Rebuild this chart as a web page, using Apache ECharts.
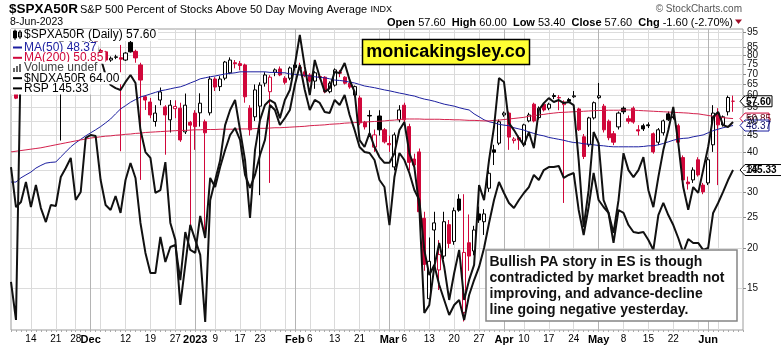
<!DOCTYPE html>
<html><head><meta charset="utf-8">
<script src="https://cdn.jsdelivr.net/npm/echarts@6/dist/echarts.min.js"></script>
<style>html,body{margin:0;padding:0;background:#fff}#c{width:781px;height:345px}</style>
</head><body><div id="c"></div>
<script>
// ---------- DATA ----------
const dates = ['2022-11-08','2022-11-09','2022-11-10','2022-11-11','2022-11-14','2022-11-15','2022-11-16','2022-11-17','2022-11-18','2022-11-21','2022-11-22','2022-11-23','2022-11-25','2022-11-28','2022-11-29','2022-11-30',
'2022-12-01','2022-12-02','2022-12-05','2022-12-06','2022-12-07','2022-12-08','2022-12-09','2022-12-12','2022-12-13','2022-12-14','2022-12-15','2022-12-16','2022-12-19','2022-12-20','2022-12-21','2022-12-22','2022-12-23','2022-12-27','2022-12-28','2022-12-29','2022-12-30',
'2023-01-03','2023-01-04','2023-01-05','2023-01-06','2023-01-09','2023-01-10','2023-01-11','2023-01-12','2023-01-13','2023-01-17','2023-01-18','2023-01-19','2023-01-20','2023-01-23','2023-01-24','2023-01-25','2023-01-26','2023-01-27','2023-01-30','2023-01-31',
'2023-02-01','2023-02-02','2023-02-03','2023-02-06','2023-02-07','2023-02-08','2023-02-09','2023-02-10','2023-02-13','2023-02-14','2023-02-15','2023-02-16','2023-02-17','2023-02-21','2023-02-22','2023-02-23','2023-02-24','2023-02-27','2023-02-28',
'2023-03-01','2023-03-02','2023-03-03','2023-03-06','2023-03-07','2023-03-08','2023-03-09','2023-03-10','2023-03-13','2023-03-14','2023-03-15','2023-03-16','2023-03-17','2023-03-20','2023-03-21','2023-03-22','2023-03-23','2023-03-24','2023-03-27','2023-03-28','2023-03-29','2023-03-30','2023-03-31',
'2023-04-03','2023-04-04','2023-04-05','2023-04-06','2023-04-10','2023-04-11','2023-04-12','2023-04-13','2023-04-14','2023-04-17','2023-04-18','2023-04-19','2023-04-20','2023-04-21','2023-04-24','2023-04-25','2023-04-26','2023-04-27','2023-04-28',
'2023-05-01','2023-05-02','2023-05-03','2023-05-04','2023-05-05','2023-05-08','2023-05-09','2023-05-10','2023-05-11','2023-05-12','2023-05-15','2023-05-16','2023-05-17','2023-05-18','2023-05-19','2023-05-22','2023-05-23','2023-05-24','2023-05-25','2023-05-26','2023-05-30','2023-05-31',
'2023-06-01','2023-06-02','2023-06-05','2023-06-06','2023-06-07','2023-06-08'];

const opens = [null,61.1,62.0,75.5,79.0,76.0,80.0,76.5,78.0,80.5,82.0,83.0,85.0,84.0,80.0,83.3,87.7,89.0,83.0,82.2,77.5,79.0,78.8,77.5,88.0,82.5,74.8,59.5,57.3,49.8,58.1,55.3,50.4,54.6,54.8,46.2,49.5,52.9,53.0,49.7,53.0,67.6,64.0,68.0,70.7,76.0,75.5,74.8,54.8,51.5,55.6,65.6,61.7,71.0,72.7,68.0,68.0,74.8,73.5,71.2,69.6,66.6,68.8,68.5,61.7,64.7,71.0,68.5,65.6,60.2,59.0,49.5,52.0,41.4,51.8,46.9,42.5,35.9,50.4,56.0,48.0,38.0,40.0,24.8,13.9,22.8,17.1,18.9,23.7,21.0,28.5,12.6,20.8,19.6,25.6,24.2,30.8,40.6,42.6,52.2,52.9,43.4,44.3,42.1,50.0,56.4,51.2,56.4,54.8,60.0,59.2,56.2,58.3,59.5,54.5,44.6,42.1,51.1,59.1,55.6,49.9,45.6,47.9,54.8,50.8,54.8,46.9,48.3,48.6,45.6,42.9,45.9,52.6,51.5,48.3,38.4,32.2,32.7,37.8,31.5,32.0,42.1,52.9,48.6,53.4,57.6];
const highs = [null,62.0,76.5,79.5,80.0,80.5,81.0,79.0,81.0,83.0,84.0,86.0,86.0,84.5,83.0,88.5,91.0,90.0,84.0,82.8,79.5,80.5,86.4,82.0,89.0,83.5,76.0,60.2,59.0,56.0,63.6,56.0,58.1,58.0,57.0,60.9,50.0,54.0,61.0,50.5,69.0,68.5,69.0,77.0,79.0,77.5,77.0,75.5,56.0,65.0,66.0,71.0,69.5,73.0,74.0,69.0,74.0,76.0,76.0,72.0,70.5,71.5,70.0,69.0,66.5,73.0,72.2,69.0,66.0,64.5,60.0,50.0,54.0,47.0,54.0,47.5,45.0,46.0,56.0,57.0,49.0,39.5,41.0,26.0,21.6,26.0,21.2,26.0,24.5,26.8,29.5,29.5,25.5,23.5,27.0,26.5,35.0,42.1,50.5,53.5,53.5,44.5,45.0,49.0,53.0,57.0,55.5,57.0,57.0,61.0,60.2,58.0,59.0,62.0,55.0,45.5,51.5,57.5,65.7,56.5,50.5,46.5,53.5,55.5,52.0,55.5,48.5,49.0,49.5,46.0,47.5,50.5,53.5,52.5,49.0,39.0,33.5,35.8,38.5,32.0,38.5,56.0,54.8,52.0,60.0,60.0];
const lows = [null,58.5,61.5,74.0,75.0,75.5,75.5,75.0,77.0,79.0,43.4,82.0,83.0,79.0,79.5,82.5,86.5,81.5,80.0,76.5,76.5,78.0,40.2,77.0,81.8,76.0,32.7,54.1,51.0,48.0,56.0,39.2,46.0,51.0,43.0,45.5,22.8,40.6,48.0,21.6,52.0,62.0,62.0,67.0,70.0,73.0,72.0,57.0,45.0,50.0,29.3,64.0,32.0,69.0,69.0,65.0,67.0,72.0,72.0,68.5,66.0,63.0,67.5,61.0,61.0,64.0,68.5,65.0,63.0,59.5,48.5,47.0,44.6,40.0,45.0,42.5,40.0,35.0,49.5,49.5,35.0,35.5,25.5,17.0,13.6,17.8,14.8,18.5,20.0,20.5,26.0,11.8,17.0,19.0,24.0,22.0,30.0,36.4,42.0,51.5,40.6,42.5,40.6,41.5,49.5,49.5,50.5,53.5,54.0,58.5,54.0,27.7,57.0,59.0,46.5,38.0,41.5,50.5,58.5,46.0,43.5,42.0,47.0,52.5,49.0,49.0,45.0,46.5,47.5,39.5,42.0,45.0,50.0,50.5,42.0,32.0,30.5,32.0,33.5,29.5,31.5,40.0,31.5,48.0,52.0,53.4];
const closes = [null,58.9,75.5,78.8,76.0,80.0,76.5,78.0,80.5,82.0,83.0,85.0,84.0,80.0,82.5,87.7,90.0,82.2,81.0,77.5,78.5,79.3,78.0,81.5,82.2,78.7,67.1,58.1,52.2,52.9,61.6,52.2,56.0,55.5,43.6,56.0,48.5,48.0,56.8,45.9,67.6,63.8,67.6,76.4,77.5,75.5,74.5,59.5,46.9,62.5,64.7,69.6,68.5,72.2,69.6,66.0,73.2,73.4,73.0,69.1,66.6,70.7,68.5,61.7,65.6,72.2,70.5,65.6,63.8,64.0,49.3,47.9,51.8,45.2,46.9,43.0,42.1,45.2,54.1,50.4,37.1,36.4,26.0,17.8,18.2,24.0,19.1,24.2,20.7,26.2,26.3,19.4,18.9,22.8,24.5,25.6,34.3,39.9,49.7,52.9,44.5,43.9,43.6,48.6,52.2,50.0,54.8,54.1,56.4,59.6,59.0,57.3,57.6,59.9,46.9,38.7,51.1,57.0,59.9,46.9,44.3,42.9,52.9,53.4,49.9,49.6,46.5,47.2,48.3,40.0,46.9,50.0,50.4,51.2,42.9,32.7,31.8,35.1,33.9,30.0,37.8,52.9,48.6,51.5,59.2,57.6];

const ma50 = [32.2,32.2,33.2,33.9,34.6,35.6,36.3,36.9,37.1,37.2,38.6,40.0,41.5,42.7,43.8,44.9,45.9,46.9,48.0,49.3,50.7,52.6,54.5,55.8,57.2,58.3,59.4,60.0,60.7,61.4,62.1,62.5,63.0,63.5,63.9,64.7,65.7,66.6,67.7,68.2,68.7,69.1,69.6,70.1,70.4,70.7,71.2,71.2,71.2,71.2,71.2,71.2,70.9,70.9,70.7,70.7,70.1,69.9,69.6,69.4,69.1,68.7,68.4,68.2,67.7,67.1,66.9,66.6,66.1,65.7,65.0,64.3,63.9,63.5,63.0,62.5,62.1,61.6,61.1,60.7,60.2,59.8,59.1,58.5,58.1,57.6,57.0,56.4,56.0,55.6,55.0,54.5,54.1,52.6,51.5,50.4,49.7,49.3,48.8,48.5,48.3,47.6,47.2,46.8,46.2,45.7,45.2,44.9,44.4,44.1,43.8,43.5,43.1,42.8,42.7,42.4,42.3,42.1,41.9,41.8,41.6,41.5,41.5,41.5,41.5,41.5,41.5,41.6,41.8,41.8,42.1,42.5,43.0,43.5,43.9,44.1,44.2,44.6,44.9,45.2,45.9,46.6,47.1,47.6,48.0,48.37];
const ma200 = [40.0,40.2,40.4,40.6,40.8,41.0,41.2,41.5,41.8,42.1,42.4,42.7,43.0,43.3,43.6,43.9,44.2,44.4,44.6,44.8,44.9,45.1,45.2,45.4,45.5,45.7,45.8,46.0,46.1,46.2,46.3,46.4,46.5,46.6,46.7,46.7,46.8,46.9,46.9,47.0,47.0,47.0,47.1,47.1,47.1,47.1,47.2,47.2,47.2,47.3,47.4,47.4,47.5,47.6,47.6,47.7,47.8,47.9,48.0,48.1,48.3,48.4,48.5,48.6,48.8,48.9,49.0,49.2,49.3,49.4,49.5,49.6,49.7,49.8,49.9,50.0,50.2,50.3,50.5,50.7,50.7,50.7,50.7,50.6,50.6,50.6,50.6,50.5,50.5,50.4,50.4,50.3,50.2,50.2,50.1,50.0,50.0,50.2,50.3,50.5,50.7,50.9,51.1,51.3,51.7,51.9,52.2,52.4,52.7,52.9,53.1,53.2,53.3,53.4,53.5,53.6,53.7,53.8,53.9,53.9,54.0,54.0,54.0,54.1,54.1,54.0,53.9,53.8,53.7,53.6,53.5,53.4,53.3,53.2,53.1,53.0,52.9,52.7,52.6,52.3,52.0,51.7,51.4,51.2,51.0,50.85];
const ndxa50r = [22.5,12.6,84.0,81.4,82.7,80.1,83.2,81.4,84.0,82.7,85.3,84.0,84.8,81.4,84.0,85.8,86.6,85.3,80.6,76.2,73.6,72.8,72.3,74.4,76.2,74.1,61.9,56.2,54.7,45.6,46.3,53.6,37.8,33.4,16.5,26.9,37.3,33.4,29.5,12.1,43.7,48.9,54.1,63.2,67.1,69.7,61.9,54.1,39.1,56.7,64.5,68.4,69.7,68.9,65.0,69.7,72.3,78.8,86.6,78.3,71.0,80.1,75.7,71.8,72.8,77.0,76.7,79.3,74.9,71.8,59.3,57.5,61.1,57.5,54.9,53.4,53.4,55.9,61.9,64.0,55.9,52.3,41.9,14.4,16.5,26.4,32.6,26.4,17.8,24.8,30.8,17.8,23.0,26.9,47.6,43.7,54.1,62.7,75.4,74.4,63.7,61.9,59.8,58.0,61.4,57.2,67.1,68.9,70.2,69.2,69.7,68.9,69.2,68.4,54.1,36.7,46.3,61.4,58.5,43.7,40.4,35.2,43.7,55.9,51.5,49.7,51.5,54.9,46.3,41.9,49.7,56.7,61.9,67.9,58.5,47.1,41.2,47.1,45.6,51.5,57.5,65.3,66.6,63.2,62.7,64.0];
const rsp = [145.56,142.48,142.87,144.41,142.48,144.18,142.40,141.32,142.64,142.56,144.79,145.49,146.26,143.02,143.64,147.80,148.03,147.95,144.56,142.64,142.25,143.33,142.02,144.56,145.87,144.72,141.25,138.94,137.39,137.39,140.17,138.24,139.40,139.55,136.85,140.55,139.17,138.94,141.79,140.09,144.72,144.02,145.56,146.87,148.03,148.57,147.65,144.95,143.95,144.95,146.49,147.65,150.34,149.96,148.80,149.34,149.96,151.88,153.43,151.50,149.96,150.73,150.50,149.80,149.73,150.73,150.34,151.11,149.57,148.42,147.11,146.72,146.64,146.10,144.56,144.02,141.09,144.79,146.64,146.10,145.10,143.79,143.02,139.17,137.24,138.01,136.47,135.31,134.16,134.93,135.31,133.77,135.70,136.85,137.86,139.32,141.25,143.02,144.41,143.56,142.79,142.40,143.02,143.56,144.02,144.95,144.56,145.33,145.56,145.56,145.64,144.72,144.95,145.10,142.25,140.32,142.48,145.10,143.02,142.48,142.02,139.71,142.25,142.02,141.09,140.55,140.48,140.55,139.94,139.17,141.86,142.79,141.86,141.09,140.09,138.94,140.01,139.71,139.71,139.17,139.32,142.02,142.79,143.64,144.56,145.33];

const yTicks = [15,20,25,30,35,40,45,50,55,60,65,70,75,80,85,90,95];
const labelDates = ['2022-11-14','2022-11-21','2022-11-28','2022-12-01','2022-12-12','2022-12-19','2022-12-27','2023-01-03','2023-01-09','2023-01-17','2023-01-23','2023-02-01','2023-02-06','2023-02-13','2023-02-21','2023-03-01','2023-03-06','2023-03-13','2023-03-20','2023-03-27','2023-04-03','2023-04-10','2023-04-17','2023-04-24','2023-05-01','2023-05-08','2023-05-15','2023-05-22','2023-06-01'];
const labelTexts = ['14','21','28','Dec','12','19','27','2023','9','17','23','Feb','6','13','21','Mar','6','13','20','27','Apr','10','17','24','May','8','15','22','Jun'];
const weekLines = ['2022-11-14','2022-11-21','2022-11-28','2022-12-05','2022-12-12','2022-12-19','2022-12-27','2023-01-09','2023-01-17','2023-01-23','2023-01-30','2023-02-06','2023-02-13','2023-02-21','2023-02-27','2023-03-06','2023-03-13','2023-03-20','2023-03-27','2023-04-10','2023-04-17','2023-04-24','2023-05-08','2023-05-15','2023-05-22','2023-05-30','2023-06-05'];
const monthLines = ['2022-12-01','2023-01-03','2023-02-01','2023-03-01','2023-04-03','2023-05-01','2023-06-01'];
const noteLines = ['Bullish PA story in ES is though','contradicted by market breadth not','improving, and advance-decline','line going negative yesterday.'];

// ---------- CHART ----------
const FONT = '"Liberation Sans", Arial, sans-serif';
const RED = '#d0073a';
const BLUE = '#1c1fa0';
const cats = dates.concat(['pad1','pad2']);
const labelMap = new Map(labelDates.map((d,i)=>[d,labelTexts[i]]));
const weekSet = new Set(weekLines);
const monthSet = new Set(monthLines);

const candleData = dates.map((d,k)=>{
  if (opens[k] == null) return '-';
  const up = closes[k] > opens[k];
  const prev = k > 0 ? closes[k-1] : null;
  const red = prev == null ? true : closes[k] < prev;
  const col = red ? RED : '#000';
  const fill = up ? '#fff' : col;
  return {value:[opens[k],closes[k],lows[k],highs[k]], itemStyle:{color:fill,color0:fill,borderColor:col,borderColor0:col,borderColorDoji:col,borderWidth:1}};
});

const chart = echarts.init(document.getElementById('c'), null, {renderer:'canvas'});
chart.setOption({
  animation:false,
  backgroundColor:'#fff',
  textStyle:{fontFamily:FONT},
  grid:{left:11, top:29, width:732, height:301, show:true, borderColor:'#9c9c9c', borderWidth:1, outerBoundsMode:'none', containLabel:false},
  xAxis:[{
    type:'category', data:cats, boundaryGap:false,
    axisLine:{show:false},
    axisTick:{show:true, interval:0, length:2, lineStyle:{color:'#aaa'}},
    axisLabel:{
      interval:(i,v)=>labelMap.has(v), margin:4, color:'#000', fontSize:10, fontFamily:FONT,
      formatter:(v)=>{const t=labelMap.get(v); if(!t) return ''; return /^[A-Z]|^\d{4}$/.test(t)?'{b|'+t+'}':'{n|'+t+'}';},
      rich:{b:{fontWeight:'bold',fontSize:11,fontFamily:FONT,color:'#000'}, n:{fontSize:10,fontFamily:FONT,color:'#000'}}
    },
    splitLine:{show:true, interval:(i,v)=>weekSet.has(v), lineStyle:{color:'#dadada',width:1}}
  },{
    type:'category', data:cats, boundaryGap:false, position:'bottom',
    axisLine:{show:false}, axisTick:{show:false}, axisLabel:{show:false},
    splitLine:{show:true, interval:(i,v)=>monthSet.has(v), lineStyle:{color:'#b4b4b4',width:1}}
  }],
  yAxis:[{
    type:'log', logBase:10, min:11.1, max:96.9, position:'right',
    axisLine:{show:false},
    axisTick:{show:true, customValues:yTicks, length:3, lineStyle:{color:'#888'}},
    axisLabel:{customValues:yTicks, color:'#111', fontSize:10, margin:4, fontFamily:FONT, hideOverlap:false, showMaxLabel:true, showMinLabel:true},
    splitLine:{show:true, lineStyle:{color:'#dcdcdc',width:1}}
  },{type:'value', min:133, max:156.2, show:false},
  {type:'value', min:10, max:88.14, show:false}],
  series:[
    {name:'SPXA50R', type:'candlestick', data:candleData, barWidth:3.6, z:2, clip:true},
    {name:'MA50', type:'line', data:ma50, symbol:'none', lineStyle:{color:BLUE,width:1}, z:3},
    {name:'MA200', type:'line', data:ma200, symbol:'none', lineStyle:{color:'#d4204c',width:1}, z:3},
    {name:'NDXA50R', type:'line', yAxisIndex:2, data:ndxa50r, symbol:'none', lineStyle:{color:'#111',width:2}, z:4},
    {name:'RSP', type:'line', yAxisIndex:1, data:rsp, symbol:'none', lineStyle:{color:'#111',width:2}, z:4}
  ]
});

// ---------- ANNOTATIONS ----------
const last = dates.length-1;
const fmt = v => v.toFixed(2);
function tag(y, text, stroke, textColor, bold, w){
  const x0 = 740;
  return {type:'group', z:100, children:[
    {type:'polygon', shape:{points:[[x0,y],[x0+5,y-5.5],[x0+5+w,y-5.5],[x0+5+w,y+5.5],[x0+5,y+5.5]]}, style:{fill:'#fff',stroke:stroke,lineWidth:1}},
    {type:'text', style:{x:x0+6, y:y+0.5, text:text, fill:textColor, font:(bold?'bold ':'')+'10px '+FONT, verticalAlign:'middle'}}
  ]};
}
const yClose = chart.convertToPixel({yAxisIndex:0}, closes[last]);
const yM200 = chart.convertToPixel({yAxisIndex:0}, ma200[last]);
const yM50 = chart.convertToPixel({yAxisIndex:0}, ma50[last]);
const yRsp = chart.convertToPixel({yAxisIndex:1}, rsp[last]);

const legend = [
  {t:'$SPXA50R (Daily) '+fmt(closes[last]), c:'#000', y:35},
  {t:'MA(50) '+fmt(ma50[last]), c:BLUE, y:47.5},
  {t:'MA(200) '+fmt(ma200[last]), c:RED, y:57.8},
  {t:'Volume undef', c:'#444', y:68},
  {t:'$NDXA50R '+fmt(ndxa50r[last]), c:'#000', y:78.2},
  {t:'RSP '+fmt(rsp[last]), c:'#000', y:88.4}
];
const g = [];
legend.forEach(r=>{
  g.push({type:'text', z:50, style:{x:11, y:r.y, text:r.t, fill:r.c, font:'12px '+FONT, verticalAlign:'middle', backgroundColor:'#fff', padding:[0,2,0,13]}});
});
// legend icons
g.push({type:'rect', z:51, shape:{x:13.5,y:31,width:3,height:7}, style:{fill:'#000',stroke:'#000',lineWidth:1}});
g.push({type:'line', z:51, shape:{x1:15,y1:29.5,x2:15,y2:40}, style:{stroke:'#000',lineWidth:1}});
g.push({type:'rect', z:51, shape:{x:18.5,y:32,width:3,height:5}, style:{fill:'#fff',stroke:'#000',lineWidth:1}});
g.push({type:'line', z:51, shape:{x1:20,y1:30,x2:20,y2:39}, style:{stroke:'#000',lineWidth:1}});
[[47.5,BLUE],[57.8,RED],[78.2,'#000'],[88.4,'#000']].forEach(([y,c])=>{
  g.push({type:'line', z:51, shape:{x1:13,y1:y,x2:22,y2:y}, style:{stroke:c,lineWidth:2}});
});
[[13,4],[16,6],[19,8]].forEach(([x,h])=>{
  g.push({type:'rect', z:51, shape:{x:x,y:72-h,width:2,height:h}, style:{fill:'#666'}});
});
// header
g.push({type:'text', style:{x:9, y:9, text:'$SPXA50R', fill:'#000', font:'bold 13.5px '+FONT, verticalAlign:'middle'}});
g.push({type:'text', style:{x:80, y:10, text:'{a|S&P 500 Percent of Stocks Above 50 Day Moving Average} {s|INDX}', verticalAlign:'middle', rich:{a:{fontSize:11,fontFamily:FONT,fill:'#000',color:'#000'}, s:{fontSize:9,fontFamily:FONT,fill:'#000',color:'#000'}}}});
g.push({type:'text', style:{x:10, y:22, text:'8-Jun-2023', fill:'#000', font:'10.5px '+FONT, verticalAlign:'middle'}});
g.push({type:'text', style:{x:742, y:9.5, text:'\u00a9 StockCharts.com', fill:'#555', font:'10px '+FONT, align:'right', verticalAlign:'middle'}});
g.push({type:'text', style:{x:733, y:22.5, align:'right', verticalAlign:'middle',
  text:'{b|Open} '+fmt(opens[last])+'  {b|High} '+fmt(highs[last])+'  {b|Low} '+fmt(lows[last])+'  {b|Close} '+fmt(closes[last])+'  {b|Chg} -1.60 (-2.70%)',
  rich:{b:{fontWeight:'bold',fontSize:11,fontFamily:FONT,fill:'#000',color:'#000'}}, font:'11px '+FONT, fill:'#000'}});
g.push({type:'polygon', shape:{points:[[735,19.5],[742,19.5],[738.5,24]]}, style:{fill:'#a0102a'}});
// watermark
g.push({type:'rect', z:60, shape:{x:362.5,y:39.5,width:167,height:25}, style:{fill:'#ffff33',stroke:'#000',lineWidth:1.5}});
g.push({type:'text', z:61, style:{x:446, y:52.5, text:'monicakingsley.co', fill:'#000', font:'bold 18px '+FONT, align:'center', verticalAlign:'middle'}});
// note box
g.push({type:'rect', z:60, shape:{x:486,y:250,width:251,height:71}, style:{fill:'#fff',stroke:'#858585',lineWidth:1.5}});
noteLines.forEach((t,i)=>{
  g.push({type:'text', z:61, style:{x:489.5, y:262+i*16.2, text:t, fill:'#111', font:'bold 14px '+FONT, verticalAlign:'middle'}});
});
// right tags
g.push(tag(yClose, fmt(closes[last]), '#000', '#000', true, 27));
g.push(tag(yM200, fmt(ma200[last]), RED, '#600010', false, 24));
g.push(tag(yM50, fmt(ma50[last]), BLUE, '#10106a', false, 24));
g.push(tag(yRsp, fmt(rsp[last]), '#000', '#000', true, 40));

chart.setOption({graphic:g});
</script>
</body></html>
